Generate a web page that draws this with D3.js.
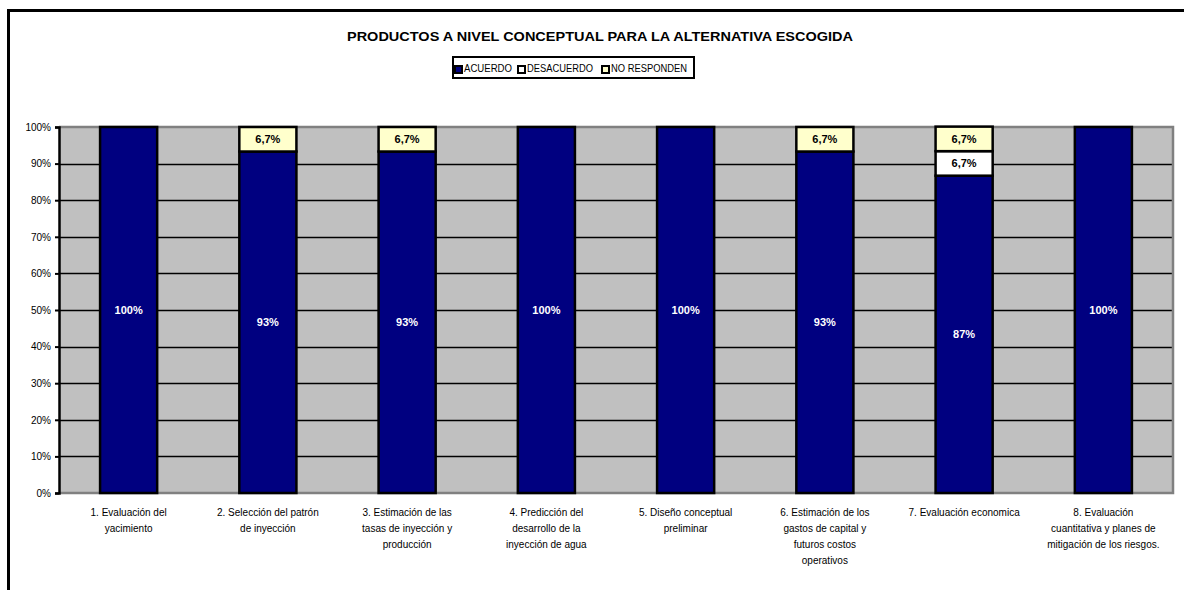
<!DOCTYPE html>
<html>
<head>
<meta charset="utf-8">
<script src="https://cdn.jsdelivr.net/npm/d3@7/dist/d3.min.js"></script>
<style>
  html, body { margin: 0; padding: 0; background: #fff; }
  svg { display: block; font-family: "Liberation Sans", Arial, sans-serif; }
</style>
</head>
<body>
<svg id="chart" width="1184" height="590"></svg>
<script>
// Survey results per deliverable (percent of respondents)
const categories = [
  ["1. Evaluación del", "yacimiento"],
  ["2. Selección del patrón", "de inyección"],
  ["3. Estimación de las", "tasas de inyección y", "producción"],
  ["4. Predicción del", "desarrollo de la", "inyección de agua"],
  ["5. Diseño conceptual", "preliminar"],
  ["6. Estimación de los", "gastos de capital y", "futuros costos", "operativos"],
  ["7. Evaluación economica"],
  ["8. Evaluación", "cuantitativa y planes de", "mitigación de los riesgos."]
];
const seriesNames = ["ACUERDO", "DESACUERDO", "NO RESPONDEN"];
const acuerdo     = [100, 93.3, 93.3, 100, 100, 93.3, 86.7, 100];
const desacuerdo  = [0, 0, 0, 0, 0, 0, 6.7, 0];
const noResponden = [0, 6.7, 6.7, 0, 0, 6.7, 6.7, 0];
const acuerdoLabels     = ["100%", "93%", "93%", "100%", "100%", "93%", "87%", "100%"];
const desacuerdoLabels  = ["", "", "", "", "", "", "6,7%", ""];
const noRespondenLabels = ["", "6,7%", "6,7%", "", "", "6,7%", "6,7%", ""];
const yTicks = [0, 10, 20, 30, 40, 50, 60, 70, 80, 90, 100];
const title = "PRODUCTOS A NIVEL CONCEPTUAL PARA LA ALTERNATIVA ESCOGIDA";

const colors = { "ACUERDO": "#000080", "DESACUERDO": "#FFFFFF", "NO RESPONDEN": "#FFFFCC" };
const labelColors = { "ACUERDO": "#FFFFFF", "DESACUERDO": "#000000", "NO RESPONDEN": "#000000" };

const svg = d3.select("#chart");
const plot = { left: 59, right: 1173, top: 127, bottom: 493 };

const keys = categories.map((c, i) => "c" + i);
const rows = keys.map((k, i) => ({
  key: k,
  "ACUERDO": acuerdo[i],
  "DESACUERDO": desacuerdo[i],
  "NO RESPONDEN": noResponden[i]
}));
const labelsBySeries = {
  "ACUERDO": acuerdoLabels,
  "DESACUERDO": desacuerdoLabels,
  "NO RESPONDEN": noRespondenLabels
};

const x = d3.scaleBand().domain(keys).range([plot.left, plot.right])
  .paddingInner(0.59).paddingOuter(0.295);
const y = d3.scaleLinear().domain([0, 100]).range([plot.bottom, plot.top]);

// Outer chart frame (top and left edges)
svg.append("path")
  .attr("d", `M8.5,590 L8.5,10.5 L1184,10.5`)
  .attr("fill", "none").attr("stroke", "#000").attr("stroke-width", 3);

// Title
svg.append("text")
  .attr("x", 600).attr("y", 41)
  .attr("text-anchor", "middle")
  .attr("font-size", 12).attr("font-weight", "bold")
  .attr("textLength", 506).attr("lengthAdjust", "spacingAndGlyphs")
  .text(title);

// Legend
const legend = svg.append("g");
legend.append("rect")
  .attr("x", 453).attr("y", 57).attr("width", 241).attr("height", 21)
  .attr("fill", "#fff").attr("stroke", "#000").attr("stroke-width", 2);
const legendX = [455, 518, 602];
const legendW = [48, 66, 76];
seriesNames.forEach((s, i) => {
  legend.append("rect")
    .attr("x", legendX[i]).attr("y", 66).attr("width", 7).attr("height", 7)
    .attr("fill", colors[s]).attr("stroke", "#000").attr("stroke-width", 2);
  legend.append("text")
    .attr("x", legendX[i] + 9).attr("y", 72)
    .attr("font-size", 10)
    .attr("textLength", legendW[i]).attr("lengthAdjust", "spacingAndGlyphs")
    .text(s);
});

// Plot area background
svg.append("rect")
  .attr("x", plot.left).attr("y", plot.top)
  .attr("width", plot.right - plot.left).attr("height", plot.bottom - plot.top)
  .attr("fill", "#C0C0C0");

// Gridlines
svg.append("g").selectAll("line")
  .data(yTicks.filter(t => t > 0 && t < 100))
  .join("line")
  .attr("x1", plot.left).attr("x2", plot.right)
  .attr("y1", d => Math.round(y(d)) + 0.5).attr("y2", d => Math.round(y(d)) + 0.5)
  .attr("stroke", "#000").attr("stroke-width", 1.6);

// Plot area border (top, right, bottom)
svg.append("path")
  .attr("d", `M${plot.left},${plot.top} L${plot.right},${plot.top} L${plot.right},${plot.bottom} L${plot.left},${plot.bottom}`)
  .attr("fill", "none").attr("stroke", "#808080").attr("stroke-width", 2.5);

// Stacked bars
const stacked = d3.stack().keys(seriesNames)(rows);
const barG = svg.append("g");
stacked.forEach(layer => {
  const s = layer.key;
  layer.forEach((d, i) => {
    if (d[1] - d[0] <= 0) return;
    barG.append("rect")
      .attr("x", x(d.data.key)).attr("width", x.bandwidth())
      .attr("y", y(d[1])).attr("height", y(d[0]) - y(d[1]))
      .attr("fill", colors[s]).attr("stroke", "#000").attr("stroke-width", 2.5);
  });
});
// Value labels
stacked.forEach(layer => {
  const s = layer.key;
  layer.forEach((d, i) => {
    const lbl = labelsBySeries[s][i];
    if (!lbl || d[1] - d[0] <= 0) return;
    barG.append("text")
      .attr("x", x(d.data.key) + x.bandwidth() / 2)
      .attr("y", (y(d[0]) + y(d[1])) / 2 + 4)
      .attr("text-anchor", "middle")
      .attr("font-size", 11).attr("font-weight", "bold")
      .attr("fill", labelColors[s])
      .text(lbl);
  });
});

// Y axis
const yAxis = d3.axisLeft(y).tickValues(yTicks).tickFormat(d => d + "%")
  .tickSize(4).tickPadding(4);
const yg = svg.append("g").attr("transform", `translate(${plot.left},0)`).call(yAxis);
yg.select(".domain").attr("stroke", "#000").attr("stroke-width", 2.5);
yg.selectAll(".tick line").attr("stroke", "#000").attr("stroke-width", 2);
yg.selectAll(".tick text").attr("font-size", 10).attr("fill", "#000")
  .attr("font-family", "Liberation Sans, Arial, sans-serif");

// Category labels
const xg = svg.append("g");
categories.forEach((lines, i) => {
  const t = xg.append("text")
    .attr("x", x(keys[i]) + x.bandwidth() / 2)
    .attr("y", 516)
    .attr("text-anchor", "middle")
    .attr("font-size", 10).attr("fill", "#000");
  lines.forEach((ln, j) => {
    t.append("tspan")
      .attr("x", x(keys[i]) + x.bandwidth() / 2)
      .attr("dy", j === 0 ? 0 : 16)
      .text(ln);
  });
});
</script>
</body>
</html>
